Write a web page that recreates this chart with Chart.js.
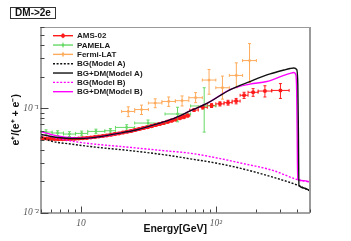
<!DOCTYPE html>
<html><head><meta charset="utf-8">
<script src="https://cdn.jsdelivr.net/npm/chart.js@4"></script>
<style>html,body{margin:0;padding:0;background:#fff}#c{display:block}</style>
</head><body>
<canvas id="c" width="351" height="241"></canvas>
<script>
// ---------- data ----------
const titleText = 'DM->2e';
const xTickValues = [10, 100];
const xTickLabels = ['10', '10\u00B2'];
const yTickValues = [0.01, 0.1];
const yTickLabels = ['10\u207B\u00B2', '10\u207B\u00B9'];

// AMS-02 positron fraction
const amsE  = [5.18,5.55,5.94,6.36,6.81,7.30,7.82,8.37,8.96,9.60,10.29,11.02,11.81,12.65,13.55,14.51,15.55,16.66,17.84,19.12,20.48,21.94,23.49,25.14,26.98,28.98,31.03,33.23,35.63,38.18,40.88,43.77,46.87,50.22,53.82,57.67,61.86,68.92,80.06,93.01,107.3,123.3,141.5,162.1,189.1,231.4,301.7];
const amsLo = [5.00,5.36,5.74,6.15,6.58,7.05,7.55,8.09,8.66,9.28,9.94,10.65,11.41,12.22,13.09,14.02,15.02,16.09,17.24,18.47,19.79,21.2,22.7,24.3,26.0,28.0,30.0,32.1,34.4,36.9,39.5,42.3,45.3,48.5,52.0,55.7,59.7,64.1,74.1,86.5,100,115.1,132.1,151.5,173.5,206,260];
const amsHi = [5.36,5.74,6.15,6.58,7.05,7.55,8.09,8.66,9.28,9.94,10.65,11.41,12.22,13.09,14.02,15.02,16.09,17.24,18.47,19.79,21.2,22.7,24.3,26.0,28.0,30.0,32.1,34.4,36.9,39.5,42.3,45.3,48.5,52.0,55.7,59.7,64.1,74.1,86.5,100,115.1,132.1,151.5,173.5,206,260,350];
const amsF  = [0.0515,0.0512,0.0508,0.0506,0.0505,0.0503,0.0504,0.0506,0.0508,0.0511,0.0515,0.0518,0.0524,0.0528,0.0535,0.0541,0.0548,0.0556,0.0565,0.0573,0.0584,0.0595,0.0604,0.0617,0.0631,0.0645,0.0658,0.0672,0.0690,0.0705,0.0722,0.0741,0.0760,0.0781,0.0803,0.0822,0.0850,0.0960,0.1020,0.1060,0.1100,0.1130,0.1170,0.1330,0.1420,0.1460,0.1480];
const amsErr= [0.0010,0.0010,0.0010,0.0010,0.0010,0.0010,0.0010,0.0010,0.0010,0.0010,0.0011,0.0011,0.0011,0.0012,0.0012,0.0012,0.0013,0.0013,0.0014,0.0014,0.0015,0.0015,0.0016,0.0016,0.0017,0.0018,0.0019,0.0020,0.0021,0.0022,0.0023,0.0024,0.0025,0.0026,0.0027,0.0028,0.0030,0.0030,0.0040,0.0045,0.0050,0.0060,0.0070,0.0090,0.0120,0.0180,0.0240];

// PAMELA
const pamE  = [5.5,6.7,8.2,10.1,12.9,16.5,21.8,31.4,52,82];
const pamLo = [5.0,6.1,7.4,9.1,11.2,15.0,18.0,25.0,42,65];
const pamHi = [6.1,7.4,9.1,11.2,15.0,18.0,25.0,42,65,100];
const pamF  = [0.0590,0.0578,0.0565,0.0573,0.0599,0.0608,0.0654,0.0720,0.0880,0.1050];
const pamUp = [0.003,0.003,0.003,0.003,0.003,0.003,0.004,0.005,0.014,0.052];
const pamDn = [0.003,0.003,0.003,0.003,0.003,0.003,0.004,0.005,0.014,0.046];

// Fermi-LAT
const ferE  = [22.4,28.1,35.5,44.7,56.2,70.8,89.1,112,142,178];
const ferLo = [20,25,31.6,39.8,50.1,63.1,79.4,100,126,158];
const ferHi = [25,31.6,39.8,50.1,63.1,79.4,100,126,158,200];
const ferF  = [0.093,0.097,0.112,0.116,0.118,0.126,0.186,0.157,0.206,0.286];
const ferUp = [0.010,0.010,0.011,0.012,0.013,0.015,0.049,0.046,0.066,0.130];
const ferDn = [0.010,0.010,0.011,0.012,0.013,0.013,0.050,0.035,0.049,0.110];

// Models
const bgAE = [5.05,5.89,8.5,13.07,23.1,40.6,64.5,100,151,265,407,500];
const bgAF = [0.0533,0.0488,0.0452,0.0422,0.0392,0.0359,0.0327,0.0298,0.0266,0.0218,0.0182,0.0161];
const sigAE = [5.05,6,7,8.5,10,13.8,20.7,26.5,36.4,46.6,64.5,88,127,179,253,320,356,380,398,406,410,414,450,500];
const sigAF = [0.056,0.0535,0.052,0.0512,0.0512,0.0533,0.0586,0.0625,0.0704,0.078,0.094,0.113,0.150,0.180,0.213,0.232,0.240,0.243,0.235,0.17,0.06,0.0183,0.0172,0.0161];
const bgBE = [5.05,6.4,9.83,23.1,40.6,64.5,100,151,265,407,500];
const bgBF = [0.056,0.052,0.047,0.0421,0.0392,0.037,0.0335,0.0299,0.0253,0.0206,0.0196];
const sigBE = [5.05,6,7,8.5,10,13.8,20.7,26.5,36.4,46.6,64.5,88,130,179,239,316,368,380,392,398,402,405,450,500];
const sigBF = [0.0594,0.056,0.0535,0.052,0.0515,0.0533,0.0586,0.0625,0.0704,0.078,0.094,0.113,0.152,0.170,0.180,0.205,0.218,0.220,0.210,0.150,0.050,0.0207,0.0202,0.0196];

// ---------- build ----------
const pts = (E, F) => E.map((e, i) => ({x: e, y: F[i]}));
const RED = '#ff1a1a', GREEN = '#66d966', ORANGE = '#ffab5c', MAG = '#ff00ff', BLK = '#111111';

function dataSet(label, E, F, lo, hi, up, dn, color, r) {
  return {label, type: 'scatter', data: pts(E, F), showLine: false, order: 2,
    backgroundColor: color, borderColor: color, pointRadius: r, pointBorderWidth: 0, pointHoverRadius: r,
    err: {lo, hi, up, dn}, legendMarker: true};
}
function curve(label, E, F, color, dash) {
  return {label, type: 'line', data: pts(E, F), order: 1, borderColor: color, backgroundColor: color,
    borderWidth: 1.4, borderDash: dash, pointRadius: 0, fill: false, cubicInterpolationMode: 'monotone'};
}

const datasets = [
  dataSet('AMS-02', amsE, amsF, amsLo, amsHi, amsErr, amsErr, RED, 2.0),
  dataSet('PAMELA', pamE, pamF, pamLo, pamHi, pamUp, pamDn, GREEN, 1.4),
  dataSet('Fermi-LAT', ferE, ferF, ferLo, ferHi, ferUp, ferDn, ORANGE, 1.4),
  curve('BG(Model A)', bgAE, bgAF, BLK, [2, 1.6]),
  curve('BG+DM(Model A)', sigAE, sigAF, BLK, []),
  curve('BG(Model B)', bgBE, bgBF, MAG, [2, 1.6]),
  curve('BG+DM(Model B)', sigBE, sigBF, MAG, [])
];

const errorBars = {
  id: 'errorBars',
  beforeDatasetsDraw(chart) {
    const {ctx} = chart, xs = chart.scales.x, ys = chart.scales.y;
    ctx.save();
    ctx.beginPath();
    ctx.rect(chart.chartArea.left, chart.chartArea.top, chart.chartArea.width, chart.chartArea.height);
    ctx.clip();
    chart.data.datasets.forEach(ds => {
      if (!ds.err) return;
      ctx.strokeStyle = ds.borderColor; ctx.lineWidth = 1; ctx.setLineDash([]);
      ds.data.forEach((p, i) => {
        const px = xs.getPixelForValue(p.x), py = ys.getPixelForValue(p.y);
        const x0 = xs.getPixelForValue(ds.err.lo[i]), x1 = xs.getPixelForValue(ds.err.hi[i]);
        const y0 = ys.getPixelForValue(p.y + ds.err.up[i]), y1 = ys.getPixelForValue(p.y - ds.err.dn[i]);
        ctx.beginPath();
        ctx.moveTo(x0, py); ctx.lineTo(x1, py);
        ctx.moveTo(px, y0); ctx.lineTo(px, y1);
        ctx.moveTo(x0, py - 1.5); ctx.lineTo(x0, py + 1.5);
        ctx.moveTo(x1, py - 1.5); ctx.lineTo(x1, py + 1.5);
        ctx.moveTo(px - 1.5, y0); ctx.lineTo(px + 1.5, y0);
        ctx.moveTo(px - 1.5, y1); ctx.lineTo(px + 1.5, y1);
        ctx.stroke();
      });
    });
    ctx.restore();
  }
};

const frame = {
  id: 'frame',
  afterDraw(chart) {
    const {ctx, chartArea: a} = chart, xs = chart.scales.x, ys = chart.scales.y;
    ctx.save();
    ctx.setLineDash([]);
    ctx.strokeStyle = '#9a9a9a'; ctx.lineWidth = 1;
    ctx.beginPath(); ctx.moveTo(a.left, a.top + 0.5); ctx.lineTo(a.right, a.top + 0.5); ctx.stroke();
    ctx.lineWidth = 2;
    ctx.beginPath(); ctx.moveTo(a.right, a.top); ctx.lineTo(a.right, a.bottom); ctx.stroke();
    ctx.strokeStyle = '#444'; ctx.lineWidth = 1;
    ctx.beginPath(); ctx.moveTo(a.left + 0.5, a.top); ctx.lineTo(a.left + 0.5, a.bottom + 0.5);
    ctx.lineTo(a.right, a.bottom + 0.5); ctx.stroke();
    ctx.beginPath();
    for (let d = 1; d <= 100; d *= 10) {
      for (let m = 1; m <= 9; m++) {
        const v = m * d;
        if (v < xs.min || v > xs.max) continue;
        const px = Math.round(xs.getPixelForValue(v)) + 0.5;
        const len = (m === 1) ? 6 : 3;
        ctx.moveTo(px, a.bottom); ctx.lineTo(px, a.bottom - len);
      }
    }
    for (let d = 0.01; d <= 0.11; d *= 10) {
      for (let m = 1; m <= 9; m++) {
        const v = m * d;
        if (v < ys.min * 0.999 || v > ys.max * 1.001) continue;
        const py = Math.round(ys.getPixelForValue(v)) + 0.5;
        const len = (m === 1) ? 8 : 4;
        ctx.moveTo(a.left, py); ctx.lineTo(a.left + len, py);
      }
    }
    ctx.stroke();
    // title box
    ctx.fillStyle = '#fff'; ctx.strokeStyle = '#333'; ctx.lineWidth = 1;
    ctx.fillRect(10.5, 7.5, 45, 11); ctx.strokeRect(10.5, 7.5, 45, 11);
    ctx.fillStyle = '#111'; ctx.font = 'bold 10px "Liberation Sans"';
    ctx.textAlign = 'center'; ctx.textBaseline = 'middle';
    ctx.fillText(titleText, 33, 13.5);
    // legend
    ctx.textAlign = 'left';
    ctx.font = 'bold 8px "Liberation Sans"';
    chart.data.datasets.forEach((ds, i) => {
      const y = 35.7 + i * 9.33;
      ctx.strokeStyle = ds.borderColor; ctx.lineWidth = 1.4;
      ctx.setLineDash(ds.borderDash || []);
      ctx.beginPath(); ctx.moveTo(53, y); ctx.lineTo(73, y); ctx.stroke();
      ctx.setLineDash([]);
      if (ds.legendMarker) {
        ctx.lineWidth = 1;
        ctx.beginPath(); ctx.moveTo(63, y - 2.5); ctx.lineTo(63, y + 2.5); ctx.stroke();
        ctx.fillStyle = ds.borderColor;
        ctx.beginPath(); ctx.arc(63, y, ds.pointRadius, 0, Math.PI * 2); ctx.fill();
      }
      ctx.fillStyle = '#1a1a1a';
      ctx.fillText(ds.label, 77, y + 0.5);
    });
    ctx.restore();
  }
};

new Chart(document.getElementById('c'), {
  data: {datasets},
  options: {
    responsive: false, animation: false, devicePixelRatio: 1,
    layout: {padding: {left: 0, right: 41, top: 27, bottom: 0}},
    plugins: {legend: {display: false}, tooltip: {enabled: false}, title: {display: false}},
    scales: {
      x: {
        type: 'logarithmic', min: 5, max: 500, position: 'bottom',
        afterFit: s => { s.height = 28.5; },
        afterBuildTicks: s => { s.ticks = xTickValues.map(v => ({value: v})); },
        grid: {display: false, drawTicks: false, tickLength: 0},
        border: {display: false},
        ticks: {autoSkip: false, maxRotation: 0, padding: 5, color: '#555',
          font: {family: '"Liberation Serif"', style: 'italic', size: 9.5},
          callback: (v) => { const i = xTickValues.indexOf(v); return i >= 0 ? xTickLabels[i] : ''; }},
        title: {display: true, text: 'Energy[GeV]', color: '#111',
          font: {family: '"Liberation Sans"', weight: 'bold', size: 10.5}, padding: {top: 0, bottom: 5.7}}
      },
      y: {
        type: 'logarithmic', min: 0.01, max: 0.6, position: 'left',
        afterFit: s => { s.width = 40.5; },
        afterBuildTicks: s => { s.ticks = yTickValues.map(v => ({value: v})); },
        grid: {display: false, drawTicks: false, tickLength: 0},
        border: {display: false},
        ticks: {autoSkip: false, padding: 2, color: '#555',
          font: {family: '"Liberation Serif"', style: 'italic', size: 9.5},
          callback: (v) => { const i = yTickValues.indexOf(v); return i >= 0 ? yTickLabels[i] : ''; }},
        title: {display: true, text: 'e\u207A/(e\u207A + e\u207B)', color: '#111',
          font: {family: '"Liberation Sans"', weight: 'bold', size: 10.5}, padding: {top: 10, bottom: 0}}
      }
    }
  },
  plugins: [errorBars, frame]
});
</script></body></html>
